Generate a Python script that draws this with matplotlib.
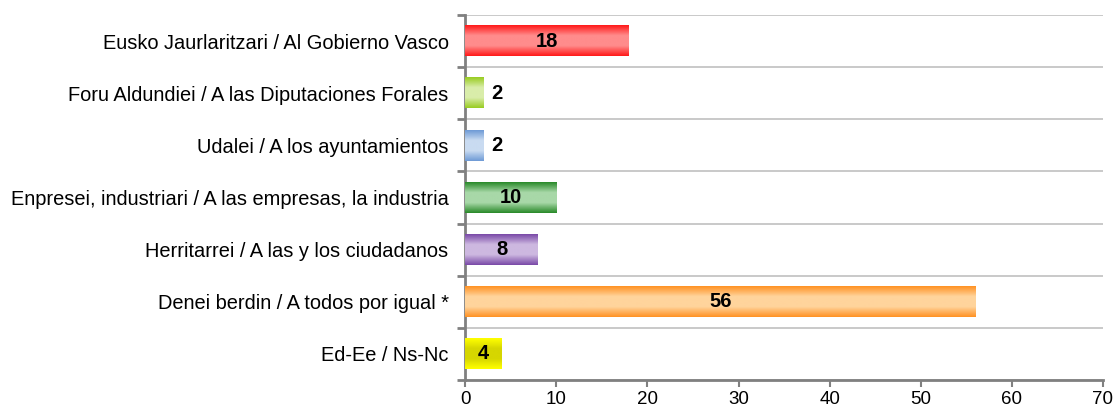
import numpy as np
import matplotlib.pyplot as plt
from matplotlib.colors import LinearSegmentedColormap

categories = [
    'Eusko Jaurlaritzari / Al Gobierno Vasco',
    'Foru Aldundiei / A las Diputaciones Forales',
    'Udalei / A los ayuntamientos',
    'Enpresei, industriari / A las empresas, la industria',
    'Herritarrei / A las y los ciudadanos',
    'Denei berdin / A todos por igual *',
    'Ed-Ee / Ns-Nc',
]
values = [18, 2, 2, 10, 8, 56, 4]
# (edge colour, centre colour) for the gradient fill of each bar
bar_colors = [
    ('#ff1a1a', '#ff8c8c'),
    ('#99cc22', '#d9edaa'),
    ('#6f9bd6', '#c9dbf1'),
    ('#2a8a2a', '#a8d8a8'),
    ('#7a4aa8', '#cdb8e0'),
    ('#ff9224', '#ffd49c'),
    ('#ffff00', '#d6d600'),
]
xticks = [0, 10, 20, 30, 40, 50, 60, 70]

plt.rcParams['font.family'] = ['Liberation Sans', 'DejaVu Sans']

fig = plt.figure(figsize=(11.13, 4.09), dpi=100)
ax = fig.add_axes([0.418, 0.071, 0.573, 0.892])

n = len(categories)
ypos = np.arange(n)
bar_h = 0.58

for y, v, (edge, centre) in zip(ypos, values, bar_colors):
    cmap = LinearSegmentedColormap.from_list('g', [edge, centre, centre, edge])
    grad = np.linspace(0, 1, 64).reshape(-1, 1)
    ax.imshow(grad, cmap=cmap, aspect='auto', interpolation='bilinear',
              extent=(0, v, y - bar_h / 2, y + bar_h / 2), zorder=3)
    if v >= 4:
        ax.text(v / 2, y, str(v), ha='center', va='center',
                fontsize=14.5, fontweight='bold', zorder=4)
    else:
        ax.text(v + 0.9, y, str(v), ha='left', va='center',
                fontsize=14.5, fontweight='bold', zorder=4)

ax.set_xlim(0, 70)
ax.set_ylim(n - 0.5, -0.5)
ax.set_xticks(xticks)
ax.set_xticklabels([str(t) for t in xticks], fontsize=13.5)

# category labels sit at bar centres, ticks at the boundaries
ax.set_yticks(ypos)
ax.set_yticklabels(categories, fontsize=14.4)
ax.tick_params(axis='y', which='major', length=0, pad=12)
ax.set_yticks(np.arange(-0.5, n, 1.0), minor=True)
ax.tick_params(axis='y', which='minor', length=6, width=2, color='#808080')
ax.tick_params(axis='x', length=5, width=1.5, color='#808080', pad=3)

ax.grid(axis='y', which='minor', color='#c0c0c0', linewidth=1.2, zorder=0)

for side in ['top', 'right']:
    ax.spines[side].set_visible(False)
for side in ['left', 'bottom']:
    ax.spines[side].set_color('#808080')
    ax.spines[side].set_linewidth(2)

fig.savefig('out.png', dpi=100)
